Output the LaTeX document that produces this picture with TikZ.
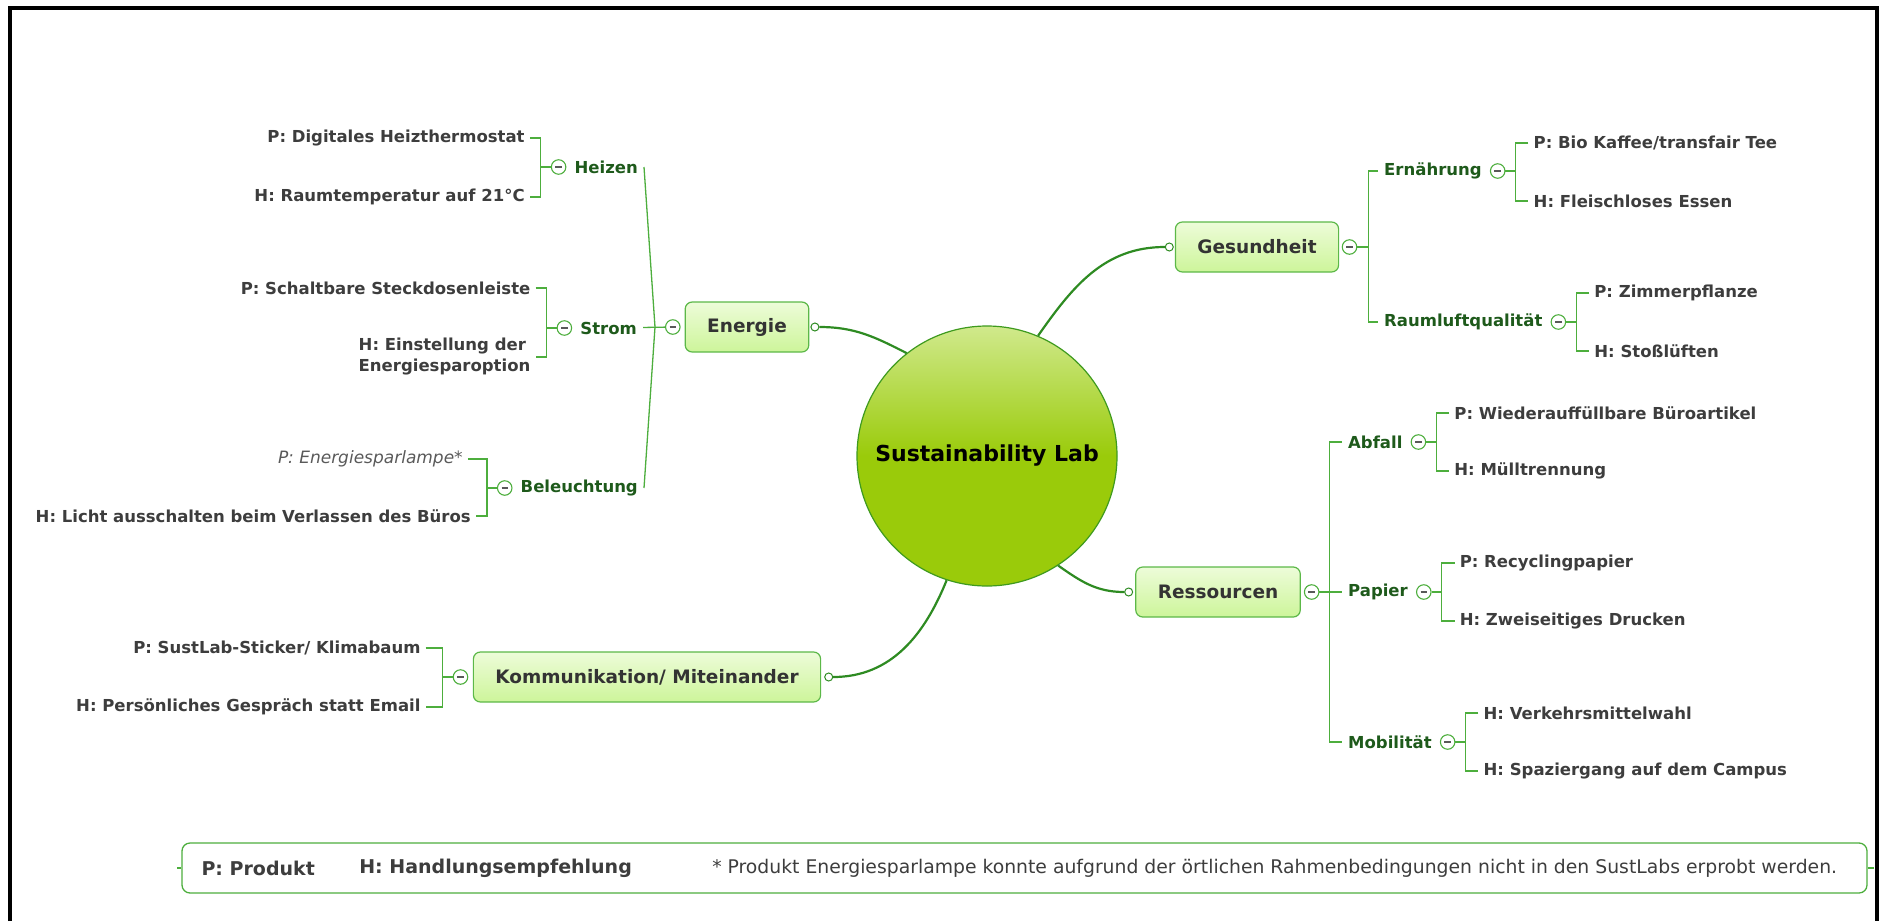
\documentclass[tikz,border=0pt]{standalone}
\usepackage{fontspec}
\setmainfont{DejaVu Sans}[ItalicFont={DejaVu Sans Oblique},BoldItalicFont={DejaVu Sans Bold Oblique}]
\usetikzlibrary{positioning}

\definecolor{limbgreen}{HTML}{2E8B22}
\definecolor{twiggreen}{HTML}{4DAE3D}
\definecolor{rimgreen}{HTML}{5CB848}
\definecolor{boxtop}{HTML}{EDFCD9}
\definecolor{boxbottom}{HTML}{CDF59A}
\definecolor{hubtop}{HTML}{D0E98C}
\definecolor{hubmid}{HTML}{9ACB0A}
\definecolor{hubrim}{HTML}{3E9A1E}
\definecolor{leafgray}{HTML}{3D3D3D}
\definecolor{subgreen}{HTML}{1E5A1B}

\begin{document}
\begin{tikzpicture}[x=1pt, y=-1pt]
    \tikzstyle{hub} = [circle, draw=hubrim, line width=1.2pt, minimum size=260pt, top color=hubtop, bottom color=hubmid, middle color=hubmid, font=\fontsize{22}{26}\selectfont\bfseries];
    \tikzstyle{topic} = [draw=rimgreen, line width=1.2pt, rounded corners=7pt, top color=boxtop, bottom color=boxbottom, minimum height=50pt, inner xsep=22pt, text=black!80, font=\fontsize{18.5}{22}\selectfont\bfseries];
    \tikzstyle{sub} = [inner xsep=6pt, inner ysep=2pt, text=subgreen, font=\fontsize{16.5}{20}\selectfont\bfseries];
    \tikzstyle{leaf} = [inner xsep=5pt, inner ysep=2pt, text=leafgray, font=\fontsize{16.5}{21}\selectfont\bfseries];
    \tikzstyle{fold} = [circle, draw=twiggreen, fill=white, line width=1.1pt, inner sep=0pt, minimum size=14.5pt, path picture={\draw[line width=1.3pt, black!65] ([xshift=-3.2pt]path picture bounding box.center) -- ([xshift=3.2pt]path picture bounding box.center);}];
    \tikzstyle{joint} = [circle, draw=limbgreen, fill=white, line width=1pt, inner sep=0pt, minimum size=8pt];
    \tikzstyle{limb} = [draw=limbgreen, line width=2.2pt];
    \tikzstyle{branch} = [draw=twiggreen, line width=1.3pt];
    \tikzstyle{legend} = [draw=twiggreen, line width=1.3pt, rounded corners=8pt, minimum width=1685pt, minimum height=50pt];
    \tikzstyle{note} = [leaf, font=\fontsize{19}{23}\selectfont\bfseries];

    \useasboundingbox (0,0) rectangle (1881,921);
    \draw[line width=4pt] (10,921) -- (10,8) -- (1877,8) -- (1877,921);

    \node[hub] (L) at (987,456) {Sustainability Lab};

    \node[topic] (E) at (747,327) {Energie};
    \node[topic] (G) at (1257,247) {Gesundheit};
    \node[topic] (R) at (1218,592) {Ressourcen};
    \node[topic] (K) at (647,677) {Kommunikation/ Miteinander};

    \node[joint, right=1pt of E] (Ed) {};
    \node[joint, left=1pt of G] (Gd) {};
    \node[joint, left=2pt of R] (Rd) {};
    \node[joint, right=3pt of K] (Kd) {};

    \node[fold, left=4pt of E] (Em) {};
    \node[fold, right=2.5pt of G] (Gm) {};
    \node[fold, right=3pt of R] (Rm) {};
    \node[fold, left=4.5pt of K] (Km) {};

    \draw[limb] (L.128) to[out=153, in=0] (Ed);
    \draw[limb] (L.67) to[out=55, in=180] (Gd);
    \draw[limb] (L.-57) to[out=-35, in=180] (Rd);
    \draw[limb] (L.-108) to[out=-112, in=0] (Kd);

    % Energie
    \node[sub, anchor=east] (H) at (644,167) {Heizen};
    \node[sub, anchor=east] (S) at (643,328) {Strom};
    \node[sub, anchor=east] (B) at (644,488) {Beleuchtung};
    \node[fold, left=2pt of H] (Hm) {};
    \node[fold, left=2pt of S] (Sm) {};
    \node[fold, left=2pt of B] (Bm) {};

    \node[leaf, left=21pt of Hm, yshift=29pt] (H1) {P: Digitales Heizthermostat};
    \node[leaf, left=21pt of Hm, yshift=-30pt] (H2) {H: Raumtemperatur auf 21°C};
    \node[leaf, left=21pt of Sm, yshift=40pt] (S1) {P: Schaltbare Steckdosenleiste};
    \node[leaf, left=21pt of Sm, yshift=-29pt, align=left] (S2) {H: Einstellung der\\Energiesparoption};
    \node[leaf, left=29pt of Bm, yshift=29pt, text=leafgray!85, font=\fontsize{17}{21}\selectfont\itshape] (B1) {P: Energiesparlampe*};
    \node[leaf, left=21pt of Bm, yshift=-28pt] (B2) {H: Licht ausschalten beim Verlassen des Büros};

    \draw[branch] (H.east) -- ([xshift=-10pt]Em.west) -- (B.east);
    \draw[branch] (S) -- (Em);
    \draw[branch] (H1) -| ([xshift=-10pt]Hm.west) |- (H2);
    \draw[branch] (Hm) -- ++(-17.5,0);
    \draw[branch] (S1) -| ([xshift=-10pt]Sm.west) |- (S2);
    \draw[branch] (Sm) -- ++(-17.5,0);
    \draw[branch] (B1) -| ([xshift=-10pt]Bm.west) |- (B2);
    \draw[branch] (Bm) -- ++(-17.5,0);

    % Gesundheit
    \node[sub, anchor=west] (N) at (1378,171) {Ernährung};
    \node[sub, anchor=west] (Q) at (1378,322) {Raumluftqualität};
    \node[fold, right=2pt of N] (Nm) {};
    \node[fold, right=2pt of Q] (Qm) {};

    \node[leaf, right=23pt of Nm, yshift=28pt] (N1) {P: Bio Kaffee/transfair Tee};
    \node[leaf, right=23pt of Nm, yshift=-30pt] (N2) {H: Fleischloses Essen};
    \node[leaf, right=23pt of Qm, yshift=29pt] (Q1) {P: Zimmerpflanze};
    \node[leaf, right=23pt of Qm, yshift=-29pt] (Q2) {H: Stoßlüften};

    \draw[branch] (N) -| ([xshift=11pt]Gm.east) |- (Q);
    \draw[branch] (Gm) -- ++(18.5,0);
    \draw[branch] (N1) -| ([xshift=10pt]Nm.east) |- (N2);
    \draw[branch] (Nm) -- ++(17.5,0);
    \draw[branch] (Q1) -| ([xshift=10pt]Qm.east) |- (Q2);
    \draw[branch] (Qm) -- ++(17.5,0);

    % Ressourcen
    \node[sub, anchor=west] (A) at (1342,442) {Abfall};
    \node[sub, anchor=west] (P) at (1342,592) {Papier};
    \node[sub, anchor=west] (M) at (1342,742) {Mobilität};
    \node[fold, right=2pt of A] (Am) {};
    \node[fold, right=2pt of P] (Pm) {};
    \node[fold, right=2pt of M] (Mm) {};

    \node[leaf, right=23pt of Am, yshift=29pt] (A1) {P: Wiederauffüllbare Büroartikel};
    \node[leaf, right=23pt of Am, yshift=-29pt] (A2) {H: Mülltrennung};
    \node[leaf, right=23pt of Pm, yshift=29pt] (P1) {P: Recyclingpapier};
    \node[leaf, right=23pt of Pm, yshift=-29pt] (P2) {H: Zweiseitiges Drucken};
    \node[leaf, right=23pt of Mm, yshift=29pt] (M1) {H: Verkehrsmittelwahl};
    \node[leaf, right=23pt of Mm, yshift=-29pt] (M2) {H: Spaziergang auf dem Campus};

    \draw[branch] (A) -| ([xshift=10pt]Rm.east) |- (M);
    \draw[branch] (Rm) -- (P);
    \draw[branch] (A1) -| ([xshift=10pt]Am.east) |- (A2);
    \draw[branch] (Am) -- ++(17.5,0);
    \draw[branch] (P1) -| ([xshift=10pt]Pm.east) |- (P2);
    \draw[branch] (Pm) -- ++(17.5,0);
    \draw[branch] (M1) -| ([xshift=10pt]Mm.east) |- (M2);
    \draw[branch] (Mm) -- ++(17.5,0);

    % Kommunikation
    \node[leaf, left=27pt of Km, yshift=29pt] (K1) {P: SustLab-Sticker/ Klimabaum};
    \node[leaf, left=27pt of Km, yshift=-30pt] (K2) {H: Persönliches Gespräch statt Email};
    \draw[branch] (K1) -| ([xshift=-10pt]Km.west) |- (K2);
    \draw[branch] (Km) -- ++(-17.5,0);

    % legend
    \node[legend] (F) at (1024.5,868) {};
    \node[note, right=15pt of F.west] (F1) {P: Produkt};
    \node[note, right=34pt of F1] (F2) {H: Handlungsempfehlung};
    \node[note, right=70pt of F2, font=\fontsize{18.8}{23}\selectfont] (F3) {* Produkt Energiesparlampe konnte aufgrund der örtlichen Rahmenbedingungen nicht in den SustLabs erprobt werden.};
    \draw[branch] (F.west) -- ++(-4,0);
    \draw[branch] (F.east) -- ++(6,0);
\end{tikzpicture}
\end{document}
